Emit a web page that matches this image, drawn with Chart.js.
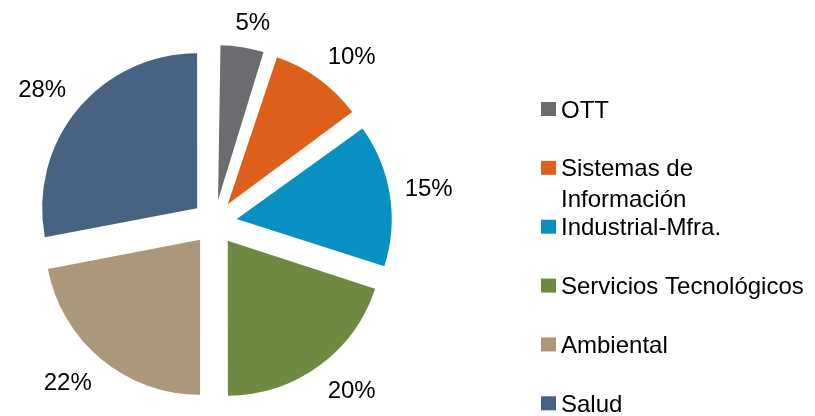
<!DOCTYPE html>
<html>
<head>
<meta charset="utf-8">
<script src="https://cdn.jsdelivr.net/npm/chart.js@4"></script>
<style>
  html, body { margin: 0; padding: 0; background: #fff; }
</style>
</head>
<body>
<canvas id="pieChart" width="815" height="416"></canvas>
<script>
// sectors and their share (%)
const sectors = ['OTT', 'Sistemas de Información', 'Industrial-Mfra.', 'Servicios Tecnológicos', 'Ambiental', 'Salud'];
const shares = [5, 10, 15, 20, 22, 28];
const sectorColors = ['#6a6c70', '#de5f19', '#0990c2', '#6e8a42', '#ab987a', '#476282'];

const FONT = '24px "Liberation Sans", Arial, sans-serif';
const EXPLODE = 90; // chart.js moves arcs by offset / 4

// keep every slice the same radius (chart.js grows small exploded slices a bit)
const evenRadius = {
    id: 'evenRadius',
    afterUpdate(chart) {
        chart.getDatasetMeta(0).data.forEach(arc => {
            const fix = 1 - Math.sin(Math.min(Math.PI, arc.circumference));
            arc.outerRadius = arc.outerRadius - (EXPLODE / 4) * fix;
        });
    }
};

const clamp = v => Math.max(-1, Math.min(1, v));

// percentage labels outside each slice (box corner sits just past the arc)
const pctLabels = {
    id: 'pctLabels',
    afterDatasetsDraw(chart) {
        const ctx = chart.ctx;
        const meta = chart.getDatasetMeta(0);
        const radius = meta.controller.outerRadius;
        ctx.save();
        ctx.font = FONT;
        ctx.fillStyle = '#000';
        ctx.textAlign = 'center';
        ctx.textBaseline = 'alphabetic';
        meta.data.forEach((arc, i) => {
            const txt = shares[i] + '%';
            const mid = (arc.startAngle + arc.endAngle) / 2;
            const dx = Math.cos(mid), dy = Math.sin(mid);
            const dist = radius + EXPLODE / 4 + 15;
            const halfW = ctx.measureText(txt).width / 2;
            const x = arc.x + dx * dist + halfW * clamp(3 * dx);
            const y = arc.y + dy * dist + 11 * clamp(3 * dy);
            ctx.fillText(txt, x, y + 8.6);
        });
        ctx.restore();
    }
};

// legend on the right, one entry per sector
const sideLegend = {
    id: 'sideLegend',
    afterDraw(chart) {
        const ctx = chart.ctx;
        ctx.save();
        ctx.font = FONT;
        ctx.textBaseline = 'alphabetic';
        const maxW = 815 - 561;
        sectors.forEach((name, i) => {
            const yc = 109 + i * 58.86;
            ctx.fillStyle = sectorColors[i];
            ctx.fillRect(541, yc - 7, 15, 14);
            // wrap long names
            const words = name.split(' ');
            const lines = [];
            let line = '';
            words.forEach(w => {
                const test = line ? line + ' ' + w : w;
                if (ctx.measureText(test).width > maxW && line) {
                    lines.push(line);
                    line = w;
                } else {
                    line = test;
                }
            });
            lines.push(line);
            ctx.fillStyle = '#000';
            lines.forEach((l, j) => ctx.fillText(l, 561, yc + 8.6 + j * 30.5));
        });
        ctx.restore();
    }
};

const chart = new Chart(document.getElementById('pieChart').getContext('2d'), {
    type: 'pie',
    data: {
        labels: sectors,
        datasets: [{
            data: shares,
            backgroundColor: sectorColors,
            borderWidth: 0,
            offset: EXPLODE
        }]
    },
    options: {
        responsive: false,
        animation: false,
        radius: 155,
        layout: {
            padding: { left: 0, right: 386, top: 29, bottom: 0 }
        },
        plugins: {
            legend: { display: false },
            tooltip: { enabled: false }
        }
    },
    plugins: [evenRadius, pctLabels, sideLegend]
});
</script>
</body>
</html>
